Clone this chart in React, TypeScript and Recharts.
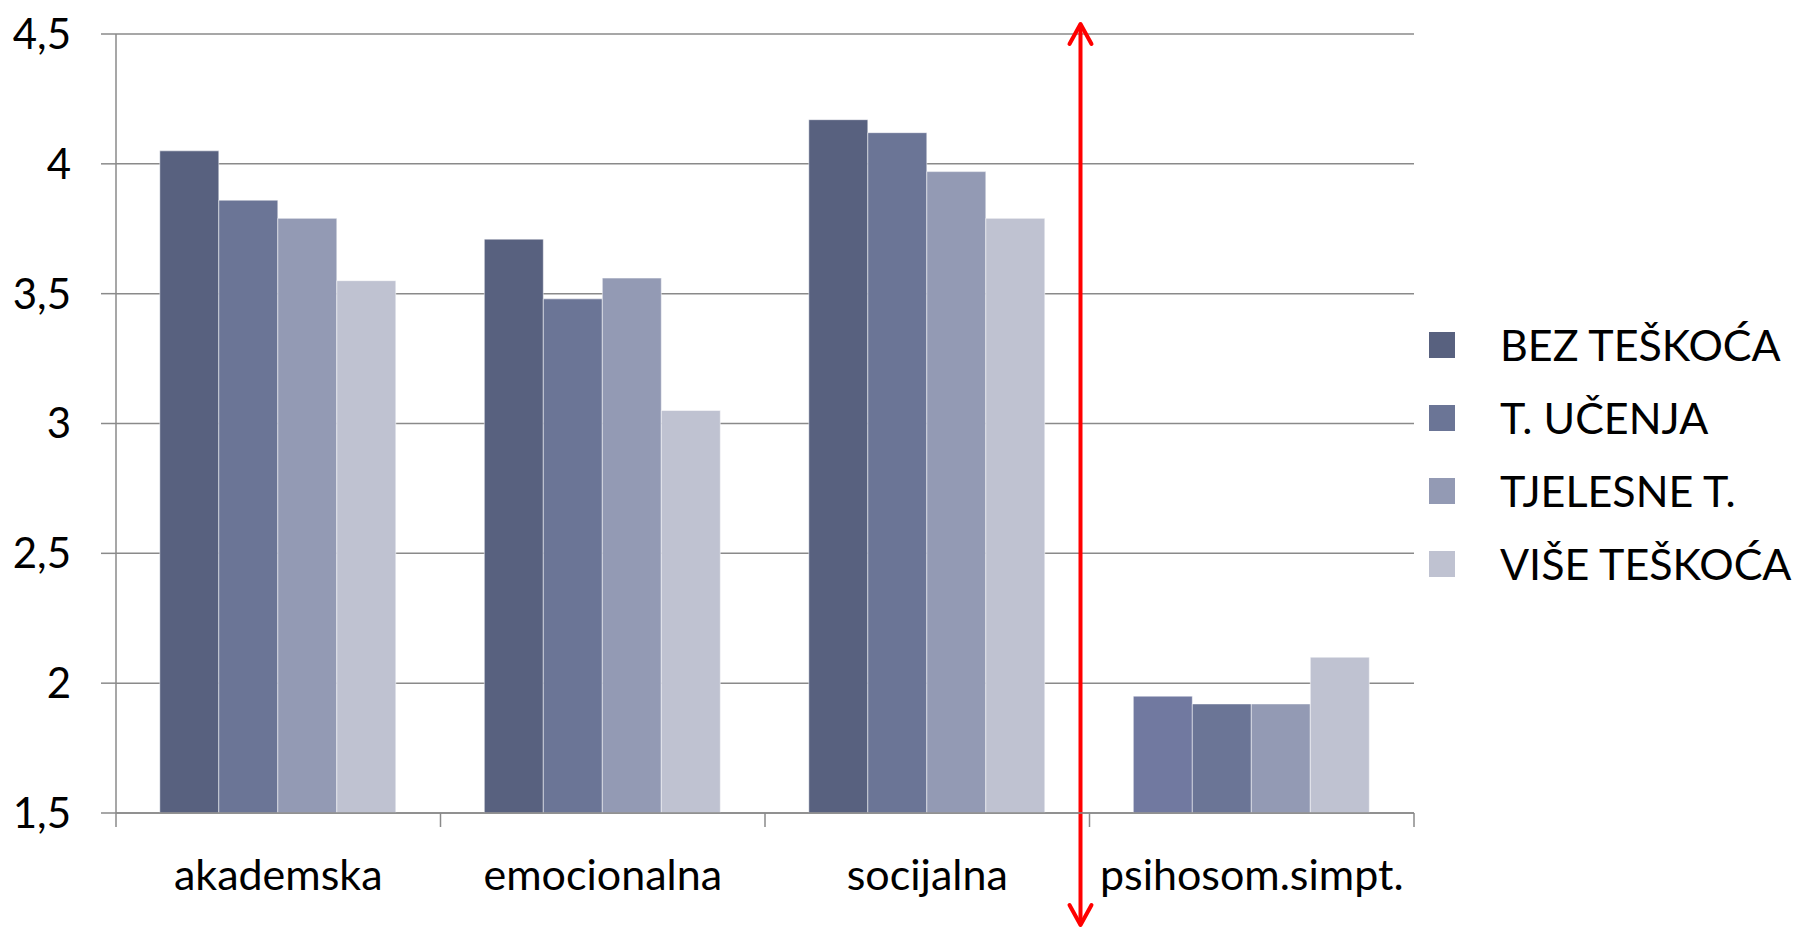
import React from 'react';
import { ComposedChart, Bar, XAxis, YAxis, CartesianGrid, Legend, ReferenceLine, Cell } from 'recharts';

const CATEGORIES = ['akademska', 'emocionalna', 'socijalna', 'psihosom.simpt.'];
const SERIES_NAMES = ['BEZ TEŠKOĆA', 'T. UČENJA', 'TJELESNE T.', 'VIŠE TEŠKOĆA'];
const BEZ_TESKOCA = [4.05, 3.71, 4.17, 1.95];
const T_UCENJA = [3.86, 3.48, 4.12, 1.92];
const TJELESNE_T = [3.79, 3.56, 3.97, 1.92];
const VISE_TESKOCA = [3.55, 3.05, 3.79, 2.1];
const Y_TICKS = [1.5, 2, 2.5, 3, 3.5, 4, 4.5];

const SERIES_VALUES = [BEZ_TESKOCA, T_UCENJA, TJELESNE_T, VISE_TESKOCA];
const KEYS = ['s0', 's1', 's2', 's3'];
const COLORS = ['#58617f', '#6b7596', '#939ab4', '#bfc2d1'];
const OVERRIDE_COLOR = '#7179a0';

const data = CATEGORIES.map((c, i) => {
  const row: any = { category: c };
  SERIES_VALUES.forEach((vals, s) => {
    row[KEYS[s]] = vals[i];
  });
  return row;
});

const CHART_W = 1803;
const CHART_H = 931;
const LEGEND_W = 374;
const MARGIN = { top: 34, right: 389 - LEGEND_W, bottom: 60, left: 0 };
const YAXIS_W = 116;
const XAXIS_H = 58;
const PLOT_W = CHART_W - MARGIN.left - MARGIN.right - LEGEND_W - YAXIS_W;
const HALF_BAND = PLOT_W / CATEGORIES.length / 2;
const FONT = 'Lato, "Open Sans", sans-serif';
const GRID = '#8a8a8a';

const XTick = (props: any) => {
  const { x, y, payload, index } = props;
  return (
    <g>
      <line x1={x - HALF_BAND} y1={y} x2={x - HALF_BAND} y2={y + 14} stroke={GRID} strokeWidth={1.5} />
      {index === CATEGORIES.length - 1 && (
        <line x1={x + HALF_BAND} y1={y} x2={x + HALF_BAND} y2={y + 14} stroke={GRID} strokeWidth={1.5} />
      )}
      <text x={x} y={y + 60} textAnchor="middle" dominantBaseline="central" fontSize={43} fill="#000" fontFamily={FONT}>
        {payload.value}
      </text>
    </g>
  );
};

const ArrowShape = (props: any) => {
  const { x1 } = props;
  if (x1 == null) return <g />;
  const x = x1 - 9;
  const top = 24;
  const bottom = 925;
  return (
    <g>
      <line x1={x} y1={top + 2} x2={x} y2={bottom - 2} stroke="#ff0000" strokeWidth={4} />
      <polyline points={`${x - 11},${top + 20} ${x},${top} ${x + 11},${top + 20}`} fill="none" stroke="#ff0000" strokeWidth={4} strokeLinecap="round" strokeLinejoin="round" />
      <polyline points={`${x - 11},${bottom - 20} ${x},${bottom} ${x + 11},${bottom - 20}`} fill="none" stroke="#ff0000" strokeWidth={4} strokeLinecap="round" strokeLinejoin="round" />
    </g>
  );
};

const renderLegend = () => (
  <div style={{ fontFamily: FONT, width: LEGEND_W }}>
    {SERIES_NAMES.map((name, i) => (
      <div key={name} style={{ display: 'flex', alignItems: 'center', height: 73 }}>
        <div style={{ width: 26, height: 26, background: COLORS[i], marginRight: 45, flexShrink: 0 }} />
        <span style={{ fontSize: 43, color: '#000', whiteSpace: 'nowrap' }}>{name}</span>
      </div>
    ))}
  </div>
);

export default function App() {
  return (
    <div style={{ position: 'absolute', left: 0, top: 0, width: CHART_W, height: CHART_H, background: '#fff' }}>
      <ComposedChart width={CHART_W} height={CHART_H} data={data} margin={MARGIN} barCategoryGap="13.5%" barGap={0}>
        <CartesianGrid vertical={false} stroke={GRID} strokeWidth={1.5} />
        <XAxis
          dataKey="category"
          height={XAXIS_H}
          axisLine={{ stroke: GRID, strokeWidth: 1.5 }}
          tickLine={false}
          tickSize={0}
          tickMargin={0}
          tick={<XTick />}
          interval={0}
        />
        <YAxis
          width={YAXIS_W}
          domain={[1.5, 4.5]}
          ticks={Y_TICKS}
          allowDataOverflow
          axisLine={{ stroke: GRID, strokeWidth: 1.5 }}
          tickLine={{ stroke: GRID, strokeWidth: 1.5 }}
          tickSize={15}
          tickMargin={30}
          tickFormatter={(v: number) => String(v).replace('.', ',')}
          tick={{ fontSize: 42, fill: '#000', fontFamily: FONT }}
        />
        {KEYS.map((k, s) => (
          <Bar key={k} dataKey={k} name={SERIES_NAMES[s]} fill={COLORS[s]} stroke="#ffffff" strokeOpacity={0.5} strokeWidth={1} isAnimationActive={false}>
            {s === 0 && data.map((_, i) => <Cell key={i} fill={i === CATEGORIES.length - 1 ? OVERRIDE_COLOR : COLORS[0]} />)}
          </Bar>
        ))}
        <ReferenceLine x="psihosom.simpt." position="start" ifOverflow="visible" shape={ArrowShape} />
        <Legend
          layout="vertical"
          align="right"
          verticalAlign="middle"
          width={LEGEND_W}
          content={renderLegend}
          wrapperStyle={{ position: 'absolute', left: 1429, top: 308, width: LEGEND_W }}
        />
      </ComposedChart>
    </div>
  );
}
